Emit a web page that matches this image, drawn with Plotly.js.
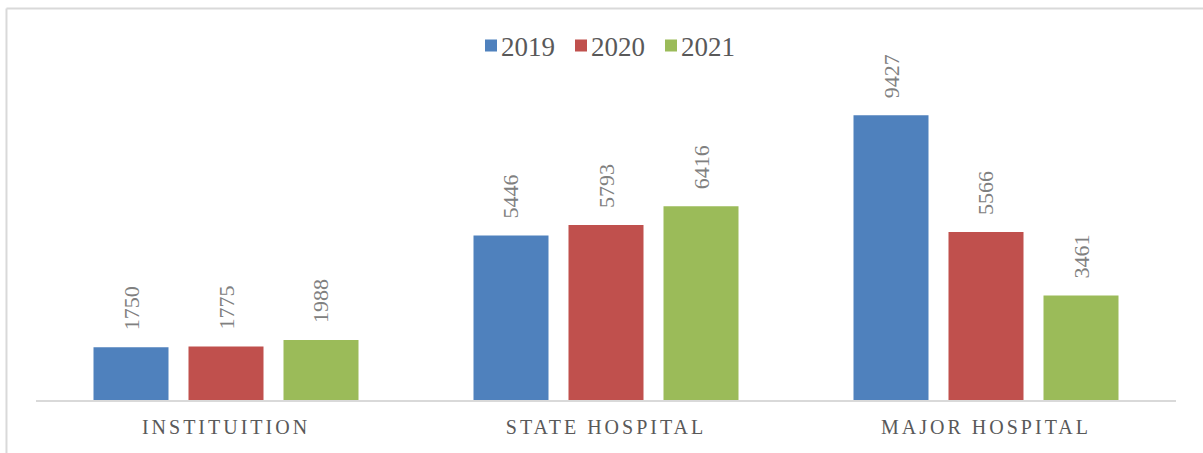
<!DOCTYPE html>
<html>
<head>
<meta charset="utf-8">
<script src="https://cdn.plot.ly/plotly-3.0.1.min.js"></script>
<style>
html,body{margin:0;padding:0;background:#fff;}
#chart{width:1203px;height:453px;}
.xtick text{letter-spacing:3px;}
.legendtext{transform:translateX(-10px);}
</style>
</head>
<body>
<div id="chart"></div>
<script>
const categories = ["INSTITUITION", "STATE HOSPITAL", "MAJOR HOSPITAL"];
const seriesNames = ["2019", "2020", "2021"];
const values2019 = [1750, 5446, 9427];
const values2020 = [1775, 5793, 5566];
const values2021 = [1988, 6416, 3461];
const seriesColors = ["#4F81BD", "#C0504D", "#9BBB59"];

const allValues = [values2019, values2020, values2021];
const traces = allValues.map((vals, i) => ({
  type: "bar",
  name: seriesNames[i],
  x: categories,
  y: vals,
  marker: {color: seriesColors[i]},
  hoverinfo: "none"
}));

const offsets = [-95, 0, 95];
const annotations = [];
allValues.forEach((vals, i) => {
  vals.forEach((v, j) => {
    annotations.push({
      x: categories[j], y: v, xref: "x", yref: "y",
      text: String(v), showarrow: false, textangle: -90,
      xanchor: "center", yanchor: "bottom",
      xshift: offsets[i], yshift: 15,
      font: {family: "Liberation Serif, serif", size: 22, color: "#808080"}
    });
  });
});

const layout = {
  width: 1203, height: 453,
  margin: {l: 36, r: 27, t: 98, b: 53},
  paper_bgcolor: "#fff", plot_bgcolor: "#fff",
  barmode: "group",
  bargap: 0.25,
  bargroupgap: 0.2105,
  showlegend: true,
  legend: {
    orientation: "h", x: 0.5, xanchor: "center", y: 1.172, yanchor: "middle",
    font: {family: "Liberation Serif, serif", size: 27, color: "#595959"},
    entrywidth: 45, entrywidthmode: "pixels",
    bgcolor: "rgba(0,0,0,0)"
  },
  xaxis: {
    type: "category",
    showline: true, linecolor: "#d9d9d9", linewidth: 2,
    ticks: "", showgrid: false, zeroline: false,
    tickfont: {family: "Liberation Serif, serif", size: 20, color: "#595959"},
    ticklabelstandoff: 8
  },
  yaxis: {
    range: [0, 10000], visible: false, showgrid: false, zeroline: false
  },
  annotations: annotations,
  shapes: [
    {type: "line", xref: "paper", yref: "paper", x0: -0.0259, x1: 1.2, y0: 1.2964, y1: 1.2964,
     line: {color: "#d9d9d9", width: 2}},
    {type: "line", xref: "paper", yref: "paper", x0: -0.0259, x1: -0.0259, y0: 1.2964, y1: -0.3,
     line: {color: "#d9d9d9", width: 2}}
  ]
};

Plotly.newPlot("chart", traces, layout, {displayModeBar: false, staticPlot: true});
</script>
</body>
</html>
